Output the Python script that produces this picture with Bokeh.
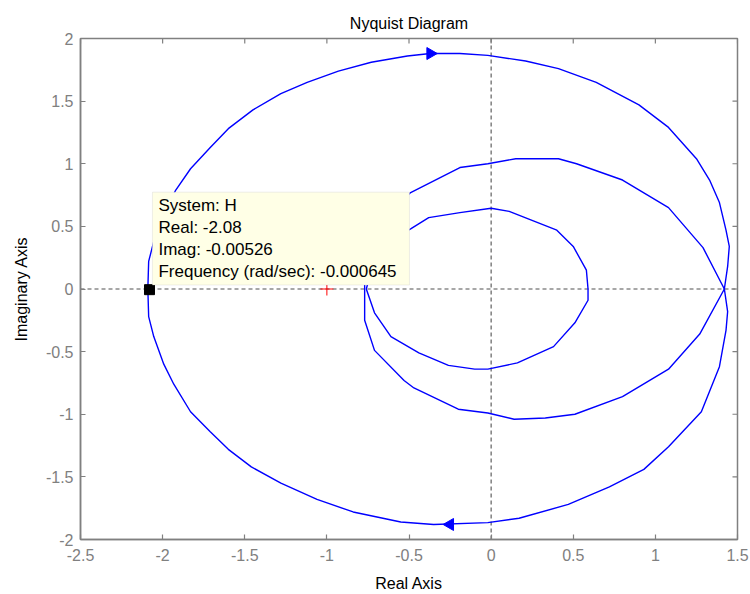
import math
from bokeh.plotting import figure
from bokeh.models import Span, BoxAnnotation, Label, FixedTicker, Range1d
from bokeh.embed import file_html
from bokeh.resources import INLINE

FONT = "Liberation Sans"

# ---------------- data ----------------
x_ticks = [-2.5, -2, -1.5, -1, -0.5, 0, 0.5, 1, 1.5]
x_tick_labels = ["-2.5", "-2", "-1.5", "-1", "-0.5", "0", "0.5", "1", "1.5"]
y_ticks = [-2, -1.5, -1, -0.5, 0, 0.5, 1, 1.5, 2]
y_tick_labels = ["-2", "-1.5", "-1", "-0.5", "0", "0.5", "1", "1.5", "2"]

# outer arc (upper half)
outer_up_x = [-2.09, -2.085, -2.054, -1.993, -1.92, -1.83, -1.71, -1.60, -1.45, -1.28, -1.12, -0.93,
              -0.73, -0.51, -0.37, -0.19, -0.02, 0.21, 0.41, 0.64, 0.90, 1.08, 1.25, 1.33, 1.39,
              1.43, 1.45, 1.44, 1.42]
outer_up_y = [0.0, 0.22, 0.38, 0.60, 0.79, 0.96, 1.13, 1.28, 1.43, 1.56, 1.65, 1.74,
              1.81, 1.86, 1.88, 1.88, 1.865, 1.82, 1.76, 1.65, 1.47, 1.29, 1.04, 0.87, 0.69,
              0.47, 0.34, 0.18, 0.0]
# outer arc (lower half)
outer_lo_x = [-2.09, -2.085, -2.054, -1.993, -1.932, -1.83, -1.71, -1.60, -1.46, -1.28, -1.06, -0.84,
              -0.55, -0.35, -0.02, 0.17, 0.47, 0.72, 0.93, 1.08, 1.28, 1.39, 1.43, 1.44, 1.42]
outer_lo_y = [0.0, -0.22, -0.38, -0.60, -0.76, -0.98, -1.14, -1.28, -1.42, -1.55, -1.68, -1.78,
              -1.86, -1.88, -1.865, -1.83, -1.72, -1.58, -1.44, -1.26, -0.98, -0.62, -0.33,
              -0.18, 0.0]
# middle curve
mid_up_x = [-0.77, -0.77, -0.71, -0.49, -0.19, -0.02, 0.15, 0.41, 0.52, 0.80, 1.08, 1.29, 1.42]
mid_up_y = [0.0, 0.25, 0.49, 0.77, 0.97, 1.0, 1.04, 1.04, 1.0, 0.87, 0.65, 0.33, 0.0]
mid_lo_x = [-0.77, -0.77, -0.71, -0.53, -0.47, -0.20, -0.02, 0.14, 0.33, 0.51, 0.80, 1.08, 1.27, 1.42]
mid_lo_y = [0.0, -0.25, -0.49, -0.73, -0.79, -0.96, -0.99, -1.04, -1.03, -1.0, -0.86, -0.64, -0.36, 0.0]
# inner curve
in_up_x = [-0.76, -0.72, -0.62, -0.49, -0.38, -0.19, 0.0, 0.11, 0.40, 0.50, 0.58, 0.59]
in_up_y = [0.0, 0.19, 0.38, 0.48, 0.57, 0.61, 0.645, 0.62, 0.47, 0.34, 0.15, 0.0]
in_lo_x = [-0.76, -0.71, -0.61, -0.44, -0.26, -0.10, -0.02, 0.16, 0.38, 0.51, 0.59, 0.59]
in_lo_y = [0.0, -0.19, -0.38, -0.51, -0.61, -0.64, -0.64, -0.59, -0.46, -0.27, -0.09, 0.0]

# direction arrows
arrow_x = [-0.37, -0.25]
arrow_y = [1.88, -1.88]
arrow_dir = ["right", "left"]

# data tip point and critical point
tip_x = [-2.08]
tip_y = [-0.00526]
crit_x = [-1.0]
crit_y = [0.0]

tip_labels = ["System", "Real", "Imag", "Frequency (rad/sec)"]
tip_values = ["H", "-2.08", "-0.00526", "-0.000645"]

# ---------------- figure ----------------
BLUE = "#0000ff"
GREY = "#808080"

p = figure(width=750, height=594,
           x_range=Range1d(x_ticks[0], x_ticks[-1]), y_range=Range1d(y_ticks[0], y_ticks[-1]),
           output_backend="svg", toolbar_location=None,
           title="Nyquist Diagram",
           min_border_left=80, min_border_right=13,
           min_border_top=38, min_border_bottom=54)

p.title.align = "center"
p.title.text_font = FONT
p.title.text_font_size = "16px"
p.title.text_font_style = "normal"
p.title.text_color = "#000000"
p.title.standoff = 13

p.xgrid.visible = False
p.ygrid.visible = False
p.outline_line_color = GREY
p.outline_line_width = 1.5
p.background_fill_color = "white"
p.border_fill_color = "white"

p.xaxis.axis_label = "Real Axis"
p.yaxis.axis_label = "Imaginary Axis"


def style_axis(ax, ticks, labels):
    ax.ticker = FixedTicker(ticks=ticks)
    ax.major_label_overrides = {t: l for t, l in zip(ticks, labels)}
    ax.major_tick_in = 5
    ax.major_tick_out = 0
    ax.minor_tick_line_color = None
    ax.axis_line_color = GREY
    ax.axis_line_width = 1.5
    ax.major_tick_line_color = GREY
    ax.major_tick_line_width = 1.2
    ax.major_label_text_color = GREY
    ax.major_label_text_font = FONT
    ax.major_label_text_font_size = "16px"
    ax.axis_label_text_font = FONT
    ax.axis_label_text_font_size = "16px"
    ax.axis_label_text_font_style = "normal"
    ax.axis_label_text_color = "#000000"


style_axis(p.xaxis[0], x_ticks, x_tick_labels)
style_axis(p.yaxis[0], y_ticks, y_tick_labels)
p.xaxis[0].major_label_standoff = 9
p.xaxis[0].axis_label_standoff = 11
p.yaxis[0].major_label_standoff = 7
p.yaxis[0].axis_label_standoff = 13

# inward ticks on the top and right edges of the box
p.ray(x=x_ticks, y=[y_ticks[-1]] * len(x_ticks), length=5, length_units="screen",
      angle=-math.pi / 2, line_color=GREY, line_width=1.2)
p.ray(x=[x_ticks[-1]] * len(y_ticks), y=y_ticks, length=5, length_units="screen",
      angle=math.pi, line_color=GREY, line_width=1.2)

# dashed zero lines
for dim in ("width", "height"):
    p.add_layout(Span(location=0, dimension=dim, line_color="#505050",
                      line_dash="4 3", line_width=1.1, level="underlay"))

# curves
for xs, ys in [(outer_up_x, outer_up_y), (outer_lo_x, outer_lo_y),
               (mid_up_x, mid_up_y), (mid_lo_x, mid_lo_y),
               (in_up_x, in_up_y), (in_lo_x, in_lo_y)]:
    p.line(xs, ys, line_color=BLUE, line_width=1.4, line_join="round")

# arrows
angles = [-math.pi / 2 if d == "right" else math.pi / 2 for d in arrow_dir]
p.scatter(arrow_x, arrow_y, marker="triangle", angle=angles, size=12,
          fill_color=BLUE, line_color=BLUE)

# critical point
p.scatter(crit_x, crit_y, marker="cross", size=13, line_color="#ff0000", line_width=1)

# data tip box
p.add_layout(BoxAnnotation(left=-2.062, right=-0.497, top=0.773, bottom=0.032,
                           fill_color="#ffffe6", fill_alpha=1.0,
                           line_color="#c8c8c8", line_width=1))
tip_text = "\n".join(f"{a}: {b}" for a, b in zip(tip_labels, tip_values))
p.add_layout(Label(x=-2.062, y=0.773, x_offset=6, y_offset=-4, text=tip_text,
                   text_align="left", text_baseline="top",
                   text_font=FONT, text_font_size="17px", text_color="#000000",
                   text_line_height=1.15))

# selected point
p.scatter(tip_x, tip_y, marker="square", size=10, fill_color="black", line_color="black")

open("out.html", "w").write(file_html(p, INLINE))
